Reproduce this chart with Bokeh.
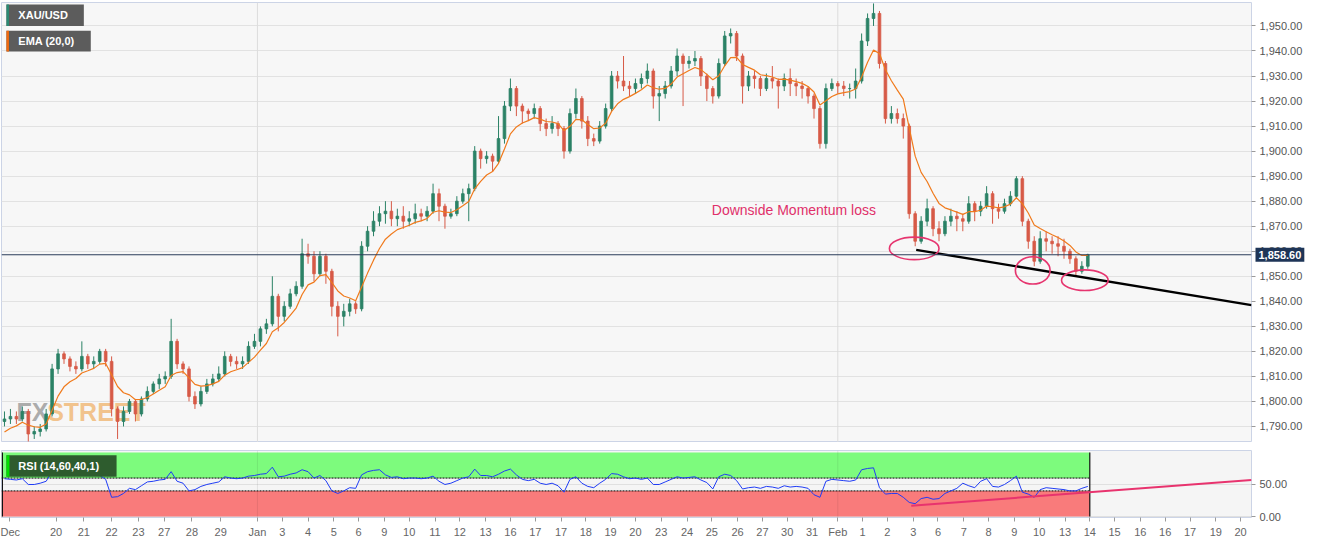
import numpy as np
from bokeh.plotting import figure
from bokeh.layouts import column
from bokeh.models import Range1d, FixedTicker, NumeralTickFormatter, Span, BoxAnnotation, Label, ColumnDataSource
from bokeh.embed import file_html
from bokeh.resources import INLINE

# ---------------- data ----------------
SYMBOL = "XAU/USD"
EMA_LABEL = "EMA (20,0)"
RSI_LABEL = "RSI (14,60,40,1)"
NOTE = "Downside  Momentum loss"
LAST_PRICE = 1858.60
FIRST_OPEN = 1792
EMA_SEED = 1786

CLOSE = [
    1793, 1794, 1793, 1796, 1787, 1788, 1789, 1795, 1813, 1819,
    1817, 1814, 1813, 1818, 1815, 1816, 1820, 1816, 1797, 1792,
    1796, 1800, 1795, 1801, 1804, 1807, 1809, 1810, 1824, 1815,
    1813, 1802, 1799, 1804, 1807, 1809, 1811, 1818, 1816, 1815,
    1816, 1822, 1824, 1829, 1831, 1842, 1834, 1838, 1843, 1846,
    1859, 1858, 1851, 1858, 1852, 1838, 1834, 1836, 1839, 1837,
    1862, 1868, 1872, 1875, 1876, 1873, 1874, 1872, 1873, 1875,
    1874, 1876, 1883, 1878, 1874, 1875, 1880, 1883, 1885, 1900,
    1897, 1898, 1896, 1905, 1918, 1925, 1918, 1916, 1915, 1917,
    1911, 1909, 1911, 1909, 1900, 1915, 1921, 1912, 1905, 1904,
    1910, 1917, 1930, 1928, 1926, 1925, 1927, 1929, 1932, 1922,
    1923, 1926, 1932, 1938, 1935, 1936, 1937, 1930, 1925, 1922,
    1935, 1946, 1947, 1938, 1926, 1930, 1929, 1925, 1929, 1928,
    1926, 1929, 1927, 1926, 1925, 1922, 1917, 1903, 1925, 1927,
    1926, 1925, 1925, 1928, 1944, 1953, 1955, 1935, 1913, 1915,
    1913, 1910, 1875, 1864, 1872, 1877, 1869, 1867, 1872, 1874,
    1873, 1872, 1879, 1876, 1878, 1883, 1877, 1876, 1879, 1882,
    1889, 1872, 1864, 1856, 1865, 1864, 1863, 1862, 1860, 1857,
    1852, 1854, 1858.6,
]
HIGH = [
    1796, 1797, 1796, 1798, 1797, 1790, 1791, 1797, 1815, 1821,
    1820, 1818, 1816, 1824, 1819, 1818, 1821, 1821, 1818, 1798,
    1798, 1801, 1801, 1802, 1806, 1808, 1811, 1812, 1833, 1825,
    1816, 1814, 1804, 1806, 1809, 1811, 1814, 1820, 1819, 1818,
    1818, 1824, 1827, 1830, 1833, 1850, 1843, 1840, 1845, 1848,
    1865, 1863, 1860, 1860, 1859, 1853, 1840, 1839, 1841, 1840,
    1864, 1870, 1876, 1878, 1880, 1880, 1877, 1878, 1876, 1879,
    1877, 1878, 1887, 1885, 1879, 1877, 1882, 1885, 1887, 1902,
    1901, 1900, 1899, 1914, 1920, 1929, 1926, 1919, 1917, 1919,
    1918, 1913, 1914, 1912, 1910, 1917, 1925, 1922, 1914, 1907,
    1912, 1919, 1932, 1932, 1938, 1928, 1929, 1931, 1935, 1933,
    1926, 1928, 1934, 1941, 1939, 1938, 1940, 1938, 1931, 1926,
    1937, 1948, 1949, 1948, 1939, 1932, 1932, 1930, 1931, 1934,
    1929, 1931, 1933, 1929, 1928, 1926, 1923, 1918, 1927, 1929,
    1928, 1928, 1927, 1933, 1947, 1955, 1959, 1956, 1936, 1918,
    1917, 1915, 1911, 1876, 1874, 1881, 1878, 1872, 1874, 1877,
    1876, 1875, 1882, 1880, 1880, 1886, 1884, 1879, 1881, 1884,
    1890, 1890, 1873, 1866, 1868, 1868, 1866, 1866, 1865, 1861,
    1858, 1856, 1859,
]
LOW = [
    1790, 1791, 1791, 1792, 1784, 1785, 1786, 1788, 1794, 1811,
    1815, 1812, 1811, 1812, 1813, 1813, 1815, 1814, 1794, 1785,
    1790, 1795, 1792, 1794, 1800, 1803, 1805, 1807, 1809, 1813,
    1811, 1800, 1797, 1798, 1803, 1806, 1808, 1810, 1814, 1813,
    1813, 1815, 1821, 1822, 1827, 1830, 1828, 1832, 1837, 1842,
    1845, 1855, 1848, 1850, 1847, 1834, 1826, 1830, 1834, 1835,
    1836, 1860, 1866, 1870, 1871, 1870, 1870, 1869, 1870, 1871,
    1872, 1872, 1875, 1872, 1869, 1873, 1874, 1879, 1872, 1884,
    1893, 1895, 1892, 1895, 1903, 1916, 1914, 1911, 1912, 1913,
    1908, 1906, 1907, 1906, 1897, 1899, 1913, 1909, 1902, 1902,
    1903, 1909, 1916, 1925, 1924, 1922, 1923, 1925, 1927, 1917,
    1912, 1921, 1925, 1930, 1918, 1933, 1934, 1926, 1920, 1919,
    1921, 1934, 1943, 1936, 1919, 1924, 1925, 1922, 1924, 1925,
    1917, 1924, 1922, 1922, 1921, 1919, 1913, 1901, 1901, 1924,
    1923, 1922, 1921, 1921, 1927, 1942, 1950, 1933, 1911, 1911,
    1911, 1905, 1873, 1862, 1863, 1870, 1866, 1864, 1866, 1870,
    1868, 1868, 1871, 1872, 1874, 1877, 1871, 1873, 1875, 1878,
    1881, 1870, 1861, 1854, 1855, 1860, 1859, 1858, 1857, 1855,
    1850, 1851, 1853,
]
RSI = [
    59, 58, 57, 59, 50, 50, 52, 55, 70, 69,
    67, 65, 64, 65, 64, 65, 64, 58, 30, 31,
    36, 44, 42, 48, 54, 55, 57, 58, 70, 55,
    52, 40, 42, 47, 50, 52, 54, 62, 60, 59,
    60, 63, 64, 66, 67, 77, 62, 63, 66, 68,
    73, 70, 60, 64, 56, 40, 36, 40, 45, 44,
    65, 70, 72, 73, 65, 61, 62, 59, 60, 60,
    59, 60, 63, 55, 50, 52, 56, 60, 62, 74,
    64, 64, 62, 66, 71, 74, 65, 58, 56, 58,
    52, 50, 52, 48, 38, 58, 62, 52, 47, 45,
    52, 58, 67, 66, 62, 59, 60, 58, 60, 50,
    50, 54, 58, 62, 60, 61, 62, 57, 53, 43,
    62, 66, 64, 56, 43, 45, 46, 44, 47, 46,
    44, 48, 46, 47, 46, 44, 34, 30, 55, 58,
    57, 56, 55, 57, 73, 75, 76, 45, 35, 36,
    36, 30, 22, 20, 28, 30, 27, 28, 36, 40,
    44, 52, 48, 45, 55, 59, 47, 46, 50, 56,
    63, 38, 35, 30, 42, 45, 44, 43, 42, 40,
    40, 44, 47,
]
TICK_LABELS = ["Dec", "20", "21", "22", "23", "27", "28", "29", "Jan", "3", "4", "5",
               "6", "9", "10", "11", "12", "13", "16", "17", "17", "18", "19", "20",
               "23", "24", "25", "26", "27", "30", "31", "Feb", "1", "2", "3", "6",
               "7", "8", "9", "10", "13", "14", "15", "16", "16", "17", "19", "20"]
PRICE_TICKS = list(range(1790, 1951, 10))
RSI_TICKS = [0, 50]
RSI_UPPER, RSI_LOWER = 60, 40

# ---------------- layout (reference-pixel geometry) ----------------
TICK_PX = [8, 55, 83, 111, 138, 164, 192, 221, 258, 283, 309, 335, 360, 386, 411, 437,
           462, 488, 513, 538, 564, 589, 614, 639, 665, 691, 716, 742, 767, 792, 817, 843,
           868, 893, 919, 944, 970, 995, 1021, 1046, 1072, 1097, 1122, 1148, 1173, 1198, 1224, 1249]
MONTH_PX = [258, 843]


def px_x(px):
    return (px - 3) / 6.0


def py_price(py):
    return 1950 - (py - 27) / 2.56


def py_rsi(py):
    return (531 - py) / 0.66


X0, X1 = px_x(0), px_x(1260)
FW = 1250
FONT = "Liberation Sans"
UP, DOWN = "#2b8266", "#d75a47"

n = len(CLOSE)
idx = np.arange(n)
opens = [FIRST_OPEN] + CLOSE[:-1]
colors = [UP if c >= o else DOWN for o, c in zip(opens, CLOSE)]
ema = []
e = EMA_SEED
for c in CLOSE:
    e = e + 0.25 * (c - e)
    ema.append(e)

src = ColumnDataSource(dict(x=idx, o=opens, c=CLOSE, h=HIGH, l=LOW,
                            top=[max(a, b) for a, b in zip(opens, CLOSE)],
                            bot=[min(a, b) for a, b in zip(opens, CLOSE)],
                            col=colors, ema=ema, rsi=RSI))


def style_yaxis(ax):
    ax.axis_line_color = None
    ax.major_tick_line_color = "#9a9a9a"
    ax.major_tick_out = 4
    ax.major_tick_in = 0
    ax.minor_tick_line_color = None
    ax.major_label_text_font = FONT
    ax.major_label_text_font_size = "11px"
    ax.major_label_text_color = "#555555"
    ax.major_label_standoff = 4


# ---------------- main price panel ----------------
p = figure(frame_width=FW, frame_height=440, x_range=Range1d(X0, X1),
           y_range=Range1d(py_price(453), py_price(3)), y_axis_location="right",
           output_backend="svg", toolbar_location=None,
           min_border_left=1, min_border_top=2, min_border_bottom=0, min_border_right=8,
           background_fill_color="#f7f7f7", border_fill_color="white")
p.outline_line_color = "#ccd4e6"
p.xaxis.visible = False
p.xgrid.visible = False
p.ygrid.grid_line_color = "#e2e2e2"
p.yaxis.ticker = FixedTicker(ticks=PRICE_TICKS)
p.yaxis.formatter = NumeralTickFormatter(format="0,0.00")
style_yaxis(p.yaxis[0])

for mpx in MONTH_PX:
    p.add_layout(Span(location=px_x(mpx), dimension="height", line_color="#dcdcdc",
                      line_width=1, level="underlay"))

# watermark
p.add_layout(Label(x=px_x(15), y=py_price(436), text="FX", text_font=FONT,
                   text_font_size="25px", text_font_style="bold", text_color="#8a8a8a",
                   text_alpha=0.7, level="underlay"))
p.add_layout(Label(x=px_x(46), y=py_price(436), text="STREET", text_font=FONT,
                   text_font_size="25px", text_font_style="bold", text_color="#f0b26a",
                   text_alpha=0.75, level="underlay"))

p.segment(x0="x", y0="h", x1="x", y1="l", color="col", line_width=1, source=src)
p.vbar(x="x", width=0.45, top="top", bottom="bot", fill_color="col", line_color="col",
       line_width=0.8, source=src)
p.line(x="x", y="ema", color="#f07a1c", line_width=1.2, source=src)

p.add_layout(Span(location=LAST_PRICE, dimension="width", line_color="#2b3d5a", line_width=1))

# black support trendline
t0x, t0y, t1y = px_x(922), py_price(256), py_price(312.5)
p.line([t0x, X1], [t0y, t1y], color="black", line_width=2.4)

# pink ellipses on the swing lows
p.ellipse(x=[px_x(920), px_x(1039.5), px_x(1092)],
          y=[py_price(254.5), py_price(277), py_price(287)],
          width=[50 / 6, 35 / 6, 47 / 6], height=[23 / 2.56, 28 / 2.56, 21 / 2.56],
          fill_color=None, line_color="#e6356f", line_width=1.6)

p.add_layout(Label(x=px_x(716), y=py_price(215), text=NOTE, text_font=FONT,
                   text_font_size="14px", text_color="#e0306a", text_baseline="middle"))

# legends
for (y_top, y_bot, right, bar, txt) in [(5, 27, 83, "#2a8a73", SYMBOL),
                                        (32, 53, 90, "#f06a10", EMA_LABEL)]:
    p.add_layout(BoxAnnotation(left=px_x(5), right=px_x(right), top=py_price(y_top),
                               bottom=py_price(y_bot), fill_color="#5c5c5c", fill_alpha=1,
                               line_color=None))
    p.add_layout(BoxAnnotation(left=px_x(5), right=px_x(7.5), top=py_price(y_top),
                               bottom=py_price(y_bot), fill_color=bar, fill_alpha=1,
                               line_color=None))
    p.add_layout(Label(x=px_x(17), y=py_price((y_top + y_bot) / 2), text=txt,
                       text_baseline="middle", text_color="white", text_font=FONT,
                       text_font_size="11px", text_font_style="bold"))

# last-price tag, placed in the right-hand panel so it is not clipped by the frame
p.add_layout(Label(x=X1, y=LAST_PRICE, x_offset=4, text="1,858.60", text_baseline="middle",
                   text_color="white", text_font=FONT, text_font_size="11px",
                   text_font_style="bold", background_fill_color="#1e3557",
                   background_fill_alpha=1, padding=3), "right")

# ---------------- RSI panel ----------------
r = figure(frame_width=FW, frame_height=67, x_range=p.x_range, y_range=Range1d(py_rsi(532), py_rsi(463)),
           y_axis_location="right", output_backend="svg", toolbar_location=None,
           min_border_left=1, min_border_top=8, min_border_bottom=2, min_border_right=8,
           background_fill_color="#f5f5f5", border_fill_color="white")
r.outline_line_color = "#ccd4e6"
r.xgrid.visible = False
r.ygrid.grid_line_color = "#e0e0e0"
r.yaxis.ticker = FixedTicker(ticks=RSI_TICKS)
r.yaxis.formatter = NumeralTickFormatter(format="0.00")
style_yaxis(r.yaxis[0])

tick_pos = [round(px_x(t), 2) for t in TICK_PX]
r.xaxis.ticker = FixedTicker(ticks=tick_pos)
r.xaxis.major_label_overrides = {tp: lab for tp, lab in zip(tick_pos, TICK_LABELS)}
xa = r.xaxis[0]
xa.axis_line_color = None
xa.major_tick_line_color = "#9a9a9a"
xa.major_tick_out = 4
xa.major_tick_in = 0
xa.minor_tick_line_color = None
xa.major_label_text_font = FONT
xa.major_label_text_font_size = "11px"
xa.major_label_text_color = "#666666"
xa.major_label_standoff = 4

z_end = px_x(1097)
r.quad(left=[X0], right=[z_end], bottom=[RSI_UPPER], top=[100], fill_color="#7dfb7d",
       line_color=None)
r.quad(left=[X0], right=[z_end], bottom=[0], top=[RSI_LOWER], fill_color="#f97b7b",
       line_color=None)
r.segment(x0=[X0, X0], y0=[RSI_UPPER, RSI_LOWER], x1=[z_end, z_end], y1=[RSI_UPPER, RSI_LOWER],
          color="black", line_width=1, line_dash="2 1")
r.segment(x0=[z_end, X0 + 0.15], y0=[0, 0], x1=[z_end, X0 + 0.15], y1=[100, 100],
          color="#111111", line_width=1.2)
for mpx in MONTH_PX:
    r.add_layout(Span(location=px_x(mpx), dimension="height", line_color="#000000",
                      line_alpha=0.08, line_width=1))

r.line(x="x", y="rsi", color="#1f3cf5", line_width=1, source=src)
r.line([px_x(917), X1], [py_rsi(520), py_rsi(493.3)], color="#e8336e", line_width=2)

r.add_layout(BoxAnnotation(left=px_x(5), right=px_x(116), top=py_rsi(468), bottom=py_rsi(490),
                           fill_color="#2e5c2e", fill_alpha=1, line_color=None))
r.add_layout(BoxAnnotation(left=px_x(5), right=px_x(8), top=py_rsi(468), bottom=py_rsi(490),
                           fill_color="#00e000", fill_alpha=1, line_color=None))
r.add_layout(Label(x=px_x(17), y=py_rsi(479), text=RSI_LABEL, text_baseline="middle",
                   text_color="white", text_font=FONT, text_font_size="11px",
                   text_font_style="bold"))

layout = column(p, r, spacing=0)
open("out.html", "w").write(file_html(layout, INLINE))
